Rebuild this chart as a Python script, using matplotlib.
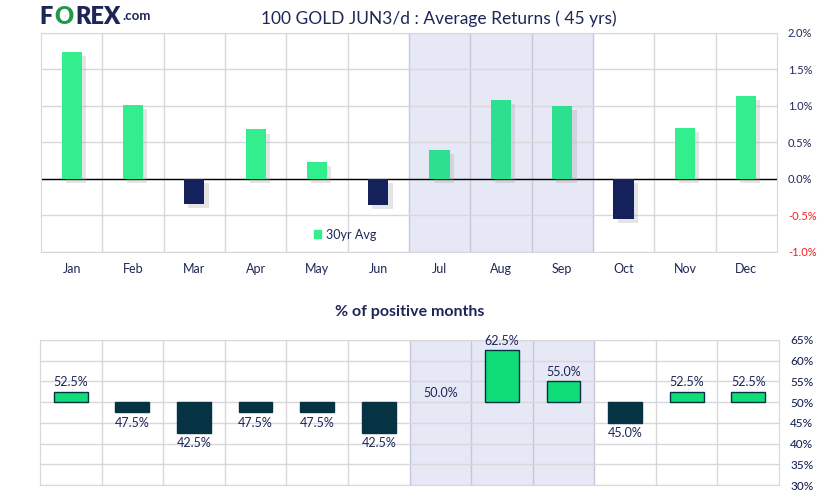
import numpy as np
import matplotlib.pyplot as plt
import matplotlib.patheffects as pe
from matplotlib.patches import Patch

plt.rcParams['font.family'] = ['Lato', 'DejaVu Sans']

months = ['Jan', 'Feb', 'Mar', 'Apr', 'May', 'Jun', 'Jul', 'Aug', 'Sep', 'Oct', 'Nov', 'Dec']
avg_returns = [1.74, 1.01, -0.34, 0.68, 0.23, -0.36, 0.40, 1.08, 1.00, -0.55, 0.70, 1.14]
pct_positive = [52.5, 47.5, 42.5, 47.5, 47.5, 42.5, 50.0, 62.5, 55.0, 45.0, 52.5, 52.5]
ret_ticks = [-1.0, -0.5, 0.0, 0.5, 1.0, 1.5, 2.0]
pos_ticks = [30, 35, 40, 45, 50, 55, 60, 65]
shaded = [6, 7, 8]

navy = '#1d2657'
grid_c = '#d8d8dc'
shade_c = '#e6e8f5'
shade_edge = '#c6c8d8'
green = '#33ee8c'
green_dk = '#2de090'
neg_c = '#14215a'
green2 = '#10dc78'
neg2 = '#053344'

fig = plt.figure(figsize=(8.24, 4.98), dpi=100)
x = np.arange(len(months))

# ---- top chart: average returns
ax = fig.add_axes([0.0498, 0.494, 0.893, 0.4398])
ax.axvspan(5.5, 8.5, color=shade_c, zorder=0, lw=0)
for b in range(1, 12):
    ax.axvline(b - 0.5, color=shade_edge if b in (6, 7, 8, 9) else grid_c, lw=1, zorder=1)
for t in ret_ticks:
    ax.axhline(t, color=grid_c, lw=1, zorder=1)
ax.axhline(0, color='black', lw=1, zorder=2)

cols = []
for i, v in enumerate(avg_returns):
    if v < 0:
        cols.append(neg_c)
    elif i in shaded:
        cols.append(green_dk)
    else:
        cols.append(green)
bars = ax.bar(x, avg_returns, width=0.33, color=cols, zorder=3)
for b in bars:
    b.set_path_effects([pe.SimplePatchShadow(offset=(3, -3), shadow_rgbFace='#999999', alpha=0.25), pe.Normal()])

ax.set_xlim(-0.5, 11.5)
ax.set_ylim(-1.0, 2.0)
ax.set_xticks(x)
ax.set_xticklabels(months, color=navy, fontsize=9)
ax.yaxis.tick_right()
ax.set_yticks(ret_ticks)
ax.set_yticklabels(['%.1f%%' % t for t in ret_ticks], fontsize=8)
for lbl, t in zip(ax.get_yticklabels(), ret_ticks):
    lbl.set_color('#ff1a1a' if t < 0 else navy)
ax.tick_params(length=0, pad=8)
for s in ax.spines.values():
    s.set_color(grid_c)
ax.legend(handles=[Patch(color=green, label='30yr Avg')], loc='lower left',
          bbox_to_anchor=(0.355, 0.0), frameon=False, fontsize=9, handlelength=0.6,
          handleheight=0.6, handletextpad=0.4, labelcolor=navy)

fig.text(0.533, 0.963, '100 GOLD JUN3/d : Average Returns ( 45 yrs)', ha='center', va='center',
         fontsize=12.5, color=navy)
# logo
fig.text(0.048, 0.965, 'F', fontsize=17, fontweight='heavy', color=navy, va='center')
fig.text(0.066, 0.965, 'O', fontsize=17, fontweight='heavy', color='#1f9a4a', va='center')
fig.text(0.091, 0.965, 'REX', fontsize=17, fontweight='heavy', color=navy, va='center')
fig.text(0.148, 0.968, '.com', fontsize=9.5, fontweight='bold', color=navy, va='center')

# ---- bottom chart: % positive months
ax2 = fig.add_axes([0.0485, 0.0261, 0.897, 0.2912])
ax2.axvspan(5.5, 8.5, color=shade_c, zorder=0, lw=0)
for b in range(1, 12):
    ax2.axvline(b - 0.5, color=shade_edge if b in (6, 7, 8, 9) else grid_c, lw=1, zorder=1)
for t in pos_ticks:
    ax2.axhline(t, color=grid_c, lw=1, zorder=1)

diffs = [p - 50 for p in pct_positive]
cols2 = [green2 if d > 0 else neg2 for d in diffs]
lws = [1 if d != 0 else 0 for d in diffs]
ax2.bar(x, diffs, bottom=50, width=0.55, color=cols2, edgecolor=neg2, linewidth=lws, zorder=3)
for i, p in enumerate(pct_positive):
    if p >= 50:
        ax2.text(i, p + 0.8, '%.1f%%' % p, ha='center', va='bottom', fontsize=9, color=navy, zorder=4)
    else:
        ax2.text(i, p - 1.0, '%.1f%%' % p, ha='center', va='top', fontsize=9, color=navy, zorder=4)

ax2.set_xlim(-0.5, 11.5)
ax2.set_ylim(30, 65)
ax2.set_xticks([])
ax2.yaxis.tick_right()
ax2.set_yticks(pos_ticks)
ax2.set_yticklabels(['%d%%' % t for t in pos_ticks], fontsize=8.5, color=navy, fontweight='medium')
ax2.tick_params(length=0, pad=8)
for s in ax2.spines.values():
    s.set_color(grid_c)
ax2.set_title('% of positive months', fontsize=11.5, fontweight='bold', color=navy, pad=17)

fig.savefig('out.png', dpi=100, facecolor='white')
